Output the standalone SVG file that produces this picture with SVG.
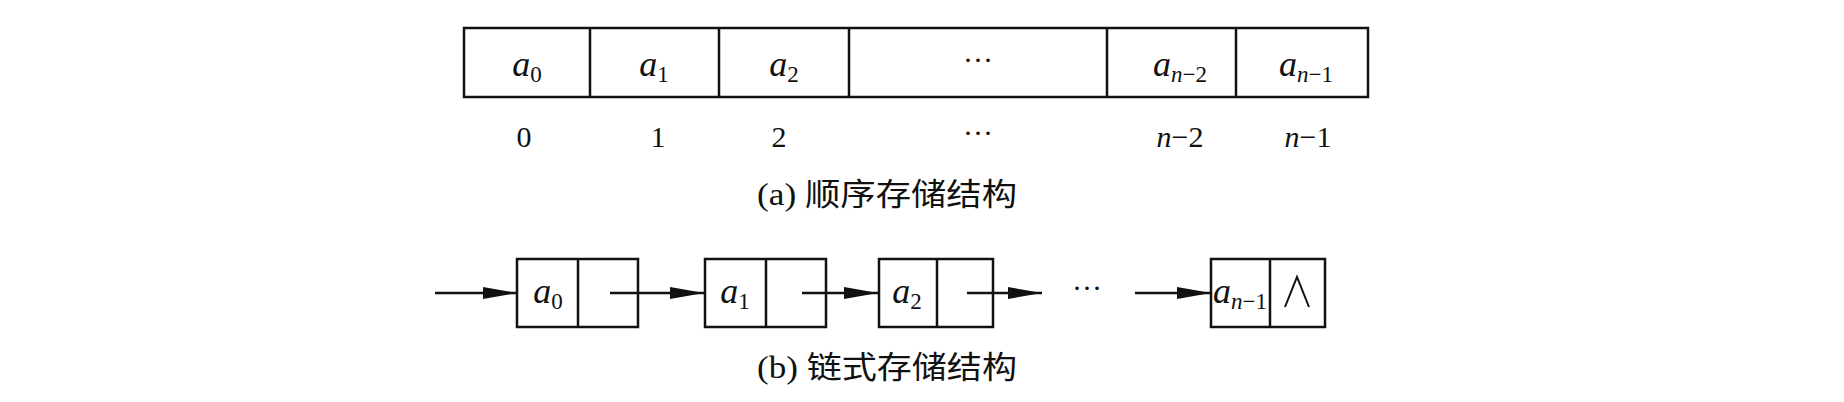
<svg xmlns="http://www.w3.org/2000/svg" width="1844" height="402" viewBox="0 0 1844 402">
<defs>
<marker id="ah" markerWidth="34" markerHeight="12" refX="34" refY="6" orient="auto" markerUnits="userSpaceOnUse"><path d="M0,0 L34,6 L0,12 Z" fill="#111"/></marker>
<style>
.b{fill:none;stroke:#111;stroke-width:2.5}
.t{font-family:"Liberation Serif",serif;font-size:36px;font-style:italic;fill:#111;text-anchor:middle}
.s{font-size:23px}
.n{font-family:"Liberation Serif",serif;font-size:30px;fill:#111;text-anchor:middle}
.c{font-family:"Liberation Serif","Noto Sans CJK SC",serif;font-size:31px;fill:#111}
.l{stroke:#111;stroke-width:2.5;fill:none}
</style>
</defs>
<rect width="1844" height="402" fill="#fff"/>
<g id="array">
<rect class="b" x="464" y="28" width="904" height="69"/>
<path class="l" d="M590,28V97M719,28V97M849,28V97M1107,28V97M1236,28V97"/>
<text class="t" x="527" y="76">a<tspan class="s" dy="6" font-style="normal">0</tspan></text>
<text class="t" x="654" y="76">a<tspan class="s" dy="6" font-style="normal">1</tspan></text>
<text class="t" x="784" y="76">a<tspan class="s" dy="6" font-style="normal">2</tspan></text>
<text class="n" x="978" y="70">···</text>
<text class="t" x="1180" y="76">a<tspan class="s" dy="6">n</tspan><tspan class="s" font-style="normal">−2</tspan></text>
<text class="t" x="1306" y="76">a<tspan class="s" dy="6">n</tspan><tspan class="s" font-style="normal">−1</tspan></text>
</g>
<g id="indices">
<text class="n" x="524" y="147">0</text>
<text class="n" x="658" y="147">1</text>
<text class="n" x="779" y="147">2</text>
<text class="n" x="978" y="143">···</text>
<text class="n" x="1180" y="147"><tspan font-style="italic">n</tspan>−2</text>
<text class="n" x="1308" y="147"><tspan font-style="italic">n</tspan>−1</text>
</g>
<text class="c" x="757" y="205" textLength="260" lengthAdjust="spacingAndGlyphs">(a) 顺序存储结构</text>
<g id="node0"><rect class="b" x="517" y="259" width="121" height="68"/><path class="l" d="M578,259V327"/><text class="t" x="548" y="303">a<tspan class="s" dy="6" font-style="normal">0</tspan></text></g>
<g id="node1"><rect class="b" x="705" y="259" width="121" height="68"/><path class="l" d="M766,259V327"/><text class="t" x="735" y="303">a<tspan class="s" dy="6" font-style="normal">1</tspan></text></g>
<g id="node2"><rect class="b" x="879" y="259" width="114" height="68"/><path class="l" d="M937,259V327"/><text class="t" x="907" y="303">a<tspan class="s" dy="6" font-style="normal">2</tspan></text></g>
<g id="nodeN"><rect class="b" x="1211" y="259" width="114" height="68"/><path class="l" d="M1270,259V327"/><text class="t" x="1240" y="303" font-size="31">a<tspan class="s" dy="6">n</tspan><tspan class="s" font-style="normal">−1</tspan></text><path d="M1285,307L1297,277L1309,307" fill="none" stroke="#111" stroke-width="2"/></g>
<text class="n" x="1087" y="298">···</text>
<g id="connectors">
<line class="l" x1="435" y1="293" x2="517" y2="293" marker-end="url(#ah)"/>
<line class="l" x1="610" y1="293" x2="704" y2="293" marker-end="url(#ah)"/>
<line class="l" x1="802" y1="293" x2="878" y2="293" marker-end="url(#ah)"/>
<line class="l" x1="967" y1="293" x2="1042" y2="293" marker-end="url(#ah)"/>
<line class="l" x1="1135" y1="293" x2="1211" y2="293" marker-end="url(#ah)"/>
</g>
<text class="c" x="757" y="378" textLength="260" lengthAdjust="spacingAndGlyphs">(b) 链式存储结构</text>
</svg>
